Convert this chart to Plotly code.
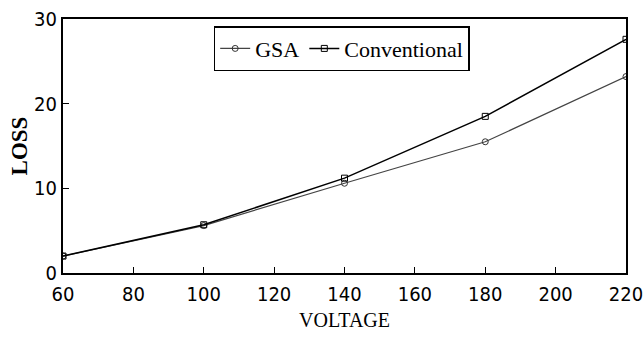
import plotly.graph_objects as go

voltage = [60, 100, 140, 180, 220]
gsa_loss = [2.0, 5.6, 10.6, 15.5, 23.2]
conv_loss = [2.0, 5.7, 11.2, 18.5, 27.6]
x_ticks = [60, 80, 100, 120, 140, 160, 180, 200, 220]
y_ticks = [0, 10, 20, 30]

fig = go.Figure()
fig.add_trace(go.Scatter(x=voltage, y=gsa_loss, name="GSA", mode="lines+markers",
                         line=dict(color="#444444", width=1.2),
                         marker=dict(symbol="circle-open", size=6, color="#333333", line=dict(width=1))))
fig.add_trace(go.Scatter(x=voltage, y=conv_loss, name="Conventional", mode="lines+markers",
                         line=dict(color="black", width=1.5),
                         marker=dict(symbol="square-open", size=6, color="black", line=dict(width=1))))

tick_font = dict(family="DejaVu Sans Condensed, Liberation Sans Narrow, sans-serif", size=20, color="black")
axis_common = dict(showgrid=False, zeroline=False, showline=True, linecolor="black", linewidth=2,
                   mirror=True, ticks="inside", ticklen=6, tickcolor="black",
                   tickfont=tick_font, automargin=False, ticklabeloverflow="allow")

fig.update_layout(
    width=643, height=338,
    margin=dict(l=63, r=17, t=19, b=65),
    paper_bgcolor="white", plot_bgcolor="white",
    showlegend=True,
    legend=dict(x=0.495, y=0.972, xanchor="center", yanchor="top", orientation="h",
                bgcolor="white", bordercolor="black", borderwidth=1.5,
                font=dict(family="Liberation Serif, Times New Roman, serif", size=22, color="black"),
                itemwidth=30, tracegroupgap=0),
    xaxis=dict(range=[60, 220], tickvals=x_ticks, ticklabelstandoff=2,
               title=dict(text="VOLTAGE", standoff=8,
                          font=dict(family="Liberation Serif, Times New Roman, serif", size=20, color="black")),
               **axis_common),
    yaxis=dict(range=[0, 30], tickvals=y_ticks, ticklabelstandoff=0,
               title=dict(text="<b>LOSS</b>", standoff=0,
                          font=dict(family="Liberation Serif, Times New Roman, serif", size=23, color="black")),
               **axis_common),
)
fig.write_html("out.html", config={"displayModeBar": False},
               post_script="document.body.style.margin='0';")
